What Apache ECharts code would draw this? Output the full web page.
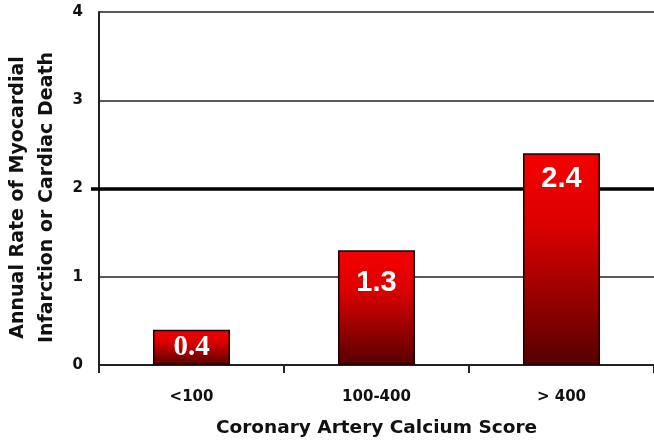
<!DOCTYPE html>
<html>
<head>
<meta charset="utf-8">
<script src="https://cdn.jsdelivr.net/npm/echarts@6/dist/echarts.min.js"></script>
<style>
html,body{margin:0;padding:0;background:#fff;}
#chart{width:654px;height:440px;}
</style>
</head>
<body>
<div id="chart"></div>
<script>
// ---- data ----
const categories = ['<100', '100-400', '> 400'];
const rates = [0.4, 1.3, 2.4];
const yTicks = [0, 1, 2, 3, 4];
const referenceLevel = 2;
const xAxisTitle = 'Coronary Artery Calcium Score';
const yAxisTitle = 'Annual Rate of Myocardial\nInfarction or Cardiac Death';

// ---- styles ----
const labelDistances = [3, 18, 11];
const labelFonts = ['Liberation Serif', 'Liberation Sans', 'Liberation Sans'];
const axisFont = 'DejaVu Sans';

const chart = echarts.init(document.getElementById('chart'), null, {renderer: 'canvas'});

const barGradient = new echarts.graphic.LinearGradient(0, 0, 0, 1, [
  {offset: 0, color: '#f40000'},
  {offset: 0.35, color: '#dc0000'},
  {offset: 1, color: '#560000'}
]);

const seriesData = rates.map((v, i) => ({
  value: v,
  label: {distance: labelDistances[i], fontFamily: labelFonts[i]}
}));

chart.setOption({
  animation: false,
  backgroundColor: '#fff',
  grid: {left: 99, right: 0, top: 12, bottom: 75, containLabel: false, outerBoundsMode: 'none'},
  xAxis: {
    type: 'category',
    data: categories,
    boundaryGap: true,
    axisLine: {show: true, lineStyle: {color: '#222', width: 2}},
    axisTick: {show: true, length: 8, lineStyle: {color: '#222', width: 2}},
    axisLabel: {fontSize: 15, fontWeight: 'bold', fontFamily: axisFont, color: '#111', margin: 25},
    name: xAxisTitle,
    nameLocation: 'middle',
    nameGap: 54,
    nameTextStyle: {fontSize: 18.5, fontWeight: 'bold', fontFamily: axisFont, color: '#111'}
  },
  yAxis: {
    type: 'value',
    min: yTicks[0],
    max: yTicks[yTicks.length - 1],
    interval: yTicks[1] - yTicks[0],
    axisLine: {show: true, lineStyle: {color: '#222', width: 2}},
    axisTick: {show: false},
    axisLabel: {fontSize: 15, fontWeight: 'bold', fontFamily: axisFont, color: '#111', margin: 16},
    splitLine: {show: true, lineStyle: {color: '#222', width: 1.5}},
    name: yAxisTitle,
    nameLocation: 'middle',
    nameGap: 33,
    nameRotate: 90,
    nameTextStyle: {fontSize: 19, fontWeight: 'bold', fontFamily: axisFont, color: '#111', lineHeight: 29, padding: [0, 18, 0, 0]}
  },
  series: [{
    type: 'line',
    data: [],
    z: 1,
    clip: false,
    silent: true,
    markLine: {
      silent: true,
      z: 1,
      symbol: 'none',
      label: {show: false},
      lineStyle: {color: '#000', width: 3.5, type: 'solid'},
      data: [[{yAxis: referenceLevel, x: 91}, {yAxis: referenceLevel, x: '100%'}]]
    }
  }, {
    type: 'bar',
    data: seriesData,
    barWidth: 77,
    z: 3,
    itemStyle: {color: barGradient, borderColor: '#1a0000', borderWidth: 1.5},
    label: {
      show: true,
      position: 'insideTop',
      color: '#fff',
      fontSize: 29,
      fontWeight: 'bold',
      formatter: p => p.value.toFixed(1)
    }
  }]
});
</script>
</body>
</html>
